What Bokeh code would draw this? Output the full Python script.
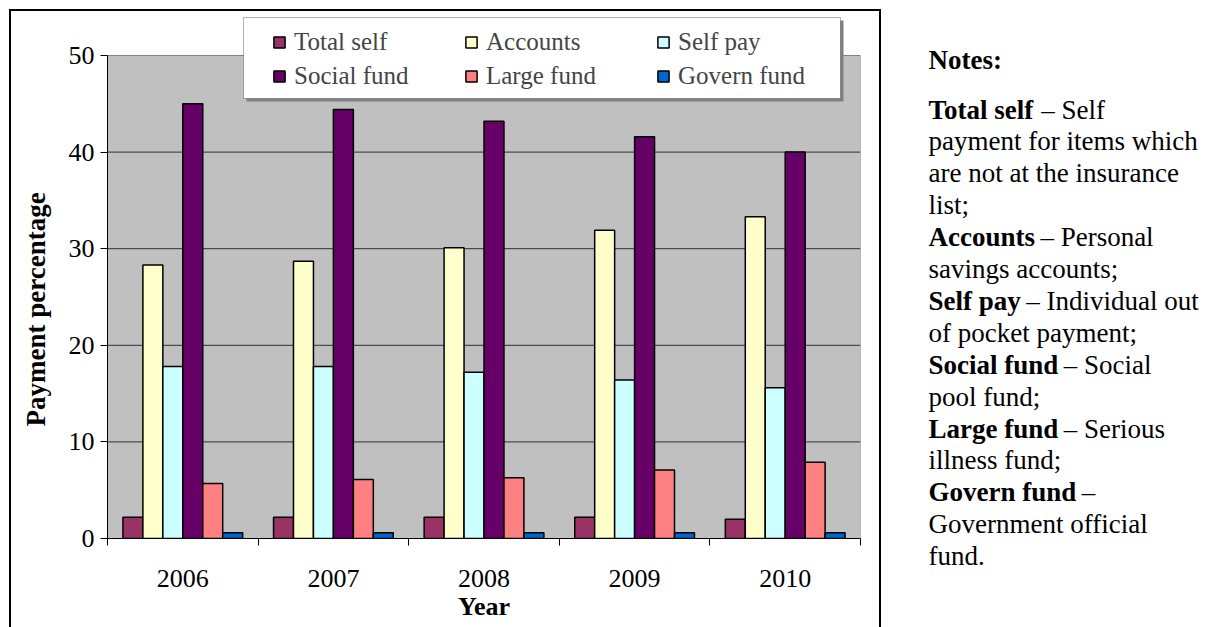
import numpy as np
from bokeh.plotting import figure
from bokeh.layouts import row
from bokeh.models import (ColumnDataSource, FixedTicker, Legend, LegendItem, Label,
                          BoxAnnotation, Range1d, InlineStyleSheet, Title)
from bokeh.transform import dodge
from bokeh.embed import file_html
from bokeh.resources import INLINE

years = ["2006", "2007", "2008", "2009", "2010"]
series = ["Total self", "Accounts", "Self pay", "Social fund", "Large fund", "Govern fund"]
total_self = [2.2, 2.2, 2.2, 2.2, 2.0]
accounts = [28.3, 28.7, 30.1, 31.9, 33.3]
self_pay = [17.8, 17.8, 17.2, 16.4, 15.6]
social_fund = [45.0, 44.4, 43.2, 41.6, 40.0]
large_fund = [5.7, 6.1, 6.3, 7.1, 7.9]
govern_fund = [0.6, 0.6, 0.6, 0.6, 0.6]
y_ticks = [0, 10, 20, 30, 40, 50]
colors = ["#993366", "#FFFFCC", "#CCFFFF", "#660066", "#FF8080", "#0066CC"]

notes_title = "Notes:"
notes_lines = [
    ("Total self", "– Self"),
    ("", "payment for items which"),
    ("", "are not at the insurance"),
    ("", "list;"),
    ("Accounts", "– Personal"),
    ("", "savings accounts;"),
    ("Self pay", "– Individual out"),
    ("", "of pocket payment;"),
    ("Social fund", "– Social"),
    ("", "pool fund;"),
    ("Large fund", "– Serious"),
    ("", "illness fund;"),
    ("Govern fund", "–"),
    ("", "Government official"),
    ("", "fund."),
]

FONT = "Liberation Serif"

# layout constants (pixels)
W, H = 1211, 627
W1 = 900
PLOT_L, PLOT_R, PLOT_T, PLOT_B = 107, 860, 55, 538
FRAME_T = 9
LEG_L, LEG_R, LEG_T, LEG_B = 243, 840, 17, 98

n = len(years)
ymax = y_ticks[-1]
y_end = ymax * (PLOT_B - FRAME_T) / (PLOT_B - PLOT_T)

cols = [total_self, accounts, self_pay, social_fund, large_fund, govern_fund]
keys = ["s%d" % i for i in range(len(series))]
data = {"xc": np.arange(n) + 0.5}
for k, c in zip(keys, cols):
    data[k] = c
src = ColumnDataSource(data)

p = figure(width=W1, height=H, x_range=Range1d(0, n), y_range=Range1d(0, y_end),
           output_backend="svg", toolbar_location=None,
           min_border_left=PLOT_L, min_border_right=W1 - PLOT_R, min_border_top=FRAME_T,
           min_border_bottom=H - PLOT_B)
p.frame_align = False
p.background_fill_color = "white"
p.border_fill_color = "white"
p.outline_line_color = None
p.xgrid.visible = False
p.ygrid.visible = False

# plot area background and gridlines
p.quad(left=0, right=n, bottom=0, top=ymax, fill_color="#C0C0C0", line_color="#808080",
       line_width=1)
p.segment(x0=[0] * (len(y_ticks) - 2), x1=[n] * (len(y_ticks) - 2),
          y0=y_ticks[1:-1], y1=y_ticks[1:-1], line_color="#303030", line_width=1)

bar_w = 0.1325
renderers = []
for j, k in enumerate(keys):
    off = (j - (len(keys) - 1) / 2) * bar_w
    r = p.vbar(x=dodge("xc", off, range=p.x_range), top=k, width=bar_w, bottom=0,
               source=src, fill_color=colors[j], line_color="black", line_width=1.5)
    renderers.append(r)

# axes
p.yaxis.bounds = (0, ymax)
p.yaxis.ticker = FixedTicker(ticks=y_ticks)
p.yaxis.minor_tick_line_color = None
p.yaxis.major_tick_out = 7
p.yaxis.major_tick_in = 0
p.yaxis.major_label_standoff = 6
p.yaxis.axis_line_color = "black"
p.yaxis.major_label_text_font = FONT
p.yaxis.major_label_text_font_size = "26px"
p.yaxis.major_label_text_color = "black"

ytitle = Title(text="Payment percentage", align="left", offset=PLOT_B - 426,
               text_font=FONT, text_font_style="bold", text_font_size="27px",
               text_color="black", standoff=30)
p.add_layout(ytitle, "left")

centers = [i + 0.5 for i in range(n)]
p.xaxis.bounds = (0, n)
p.xaxis.ticker = FixedTicker(ticks=centers, minor_ticks=list(range(n + 1)))
p.xaxis.major_label_overrides = {c: y for c, y in zip(centers, years)}
p.xaxis.major_tick_line_color = None
p.xaxis.minor_tick_line_color = "black"
p.xaxis.minor_tick_out = 7
p.xaxis.minor_tick_in = 0
p.xaxis.major_label_standoff = 24
p.xaxis.axis_line_color = "black"
p.xaxis.major_label_text_font = FONT
p.xaxis.major_label_text_font_size = "26px"
p.xaxis.major_label_text_color = "black"
p.xaxis.axis_label = "Year"
p.xaxis.axis_label_text_font = FONT
p.xaxis.axis_label_text_font_style = "bold"
p.xaxis.axis_label_text_font_size = "26px"
p.xaxis.axis_label_text_color = "black"
p.xaxis.axis_label_standoff = 2

# outer frame (css overlay)
p.stylesheets = [InlineStyleSheet(css="""
:host { position: relative; }
:host::after { content: ''; position: absolute; left: 9px; top: 9px; width: 872px;
  height: 618px; border: 2px solid black; border-bottom: none; box-sizing: border-box;
  pointer-events: none; }
""")]

# legend shadow and box
p.add_layout(BoxAnnotation(left=LEG_L + 3, right=LEG_R + 3, top=LEG_T + 3, bottom=LEG_B + 3,
                           left_units="canvas", right_units="canvas",
                           top_units="canvas", bottom_units="canvas",
                           fill_color="#808080", fill_alpha=1, line_alpha=0, level="annotation"))
p.add_layout(BoxAnnotation(left=LEG_L, right=LEG_R, top=LEG_T, bottom=LEG_B,
                           left_units="canvas", right_units="canvas",
                           top_units="canvas", bottom_units="canvas",
                           fill_color="white", fill_alpha=1, line_color="black",
                           line_width=1, level="annotation"))

legend = Legend(items=[LegendItem(label=s, renderers=[r]) for s, r in zip(series, renderers)],
                orientation="horizontal", ncols=3,
                location=(272 - PLOT_L, PLOT_B - 90))
legend.label_text_font = FONT
legend.label_text_font_size = "25px"
legend.glyph_width = 14
legend.glyph_height = 14
legend.label_standoff = 8
legend.label_width = 164
legend.label_height = 24
legend.spacing = 6
legend.padding = 0
legend.margin = 0
legend.border_line_color = None
legend.background_fill_alpha = 0
p.add_layout(legend)

# notes panel
p2 = figure(width=W - W1, height=H, x_range=Range1d(0, W - W1), y_range=Range1d(H, 0),
            output_backend="svg", toolbar_location=None,
            x_axis_location=None, y_axis_location=None,
            min_border=0, min_border_left=0, min_border_right=0, min_border_top=0,
            min_border_bottom=0)
p2.frame_align = False
p2.outline_line_color = None
p2.xgrid.visible = False
p2.ygrid.visible = False
p2.background_fill_color = "white"
p2.border_fill_color = "white"

NX = 928 - W1
fs = 27
p2.add_layout(Label(x=NX, y=59, x_units="canvas", y_units="canvas", text=notes_title,
                    text_font=FONT, text_font_size="27px", text_font_style="bold",
                    text_baseline="alphabetic", text_color="black"))

bold_w = {"T": 667, "o": 500, "t": 333, "a": 500, "l": 278, " ": 250, "s": 389, "e": 444,
          "f": 333, "A": 722, "c": 444, "u": 556, "n": 556, "S": 556, "p": 556, "y": 500,
          "i": 278, "d": 556, "L": 667, "r": 444, "g": 500, "G": 778, "v": 500}
for i, (b, t) in enumerate(notes_lines):
    yb = 109 + 31.9 * i
    x0 = NX
    if b:
        p2.add_layout(Label(x=x0, y=yb, x_units="canvas", y_units="canvas", text=b,
                            text_font=FONT, text_font_size="27px", text_font_style="bold",
                            text_baseline="alphabetic", text_color="black"))
        x0 = x0 + sum(bold_w[ch] for ch in b) * fs / 1000 + 200 * fs / 1000
    p2.add_layout(Label(x=x0, y=yb, x_units="canvas", y_units="canvas", text=t,
                        text_font=FONT, text_font_size="27px",
                        text_baseline="alphabetic", text_color="black"))

layout = row(p, p2, spacing=0)
open("out.html", "w").write(file_html(layout, INLINE))
